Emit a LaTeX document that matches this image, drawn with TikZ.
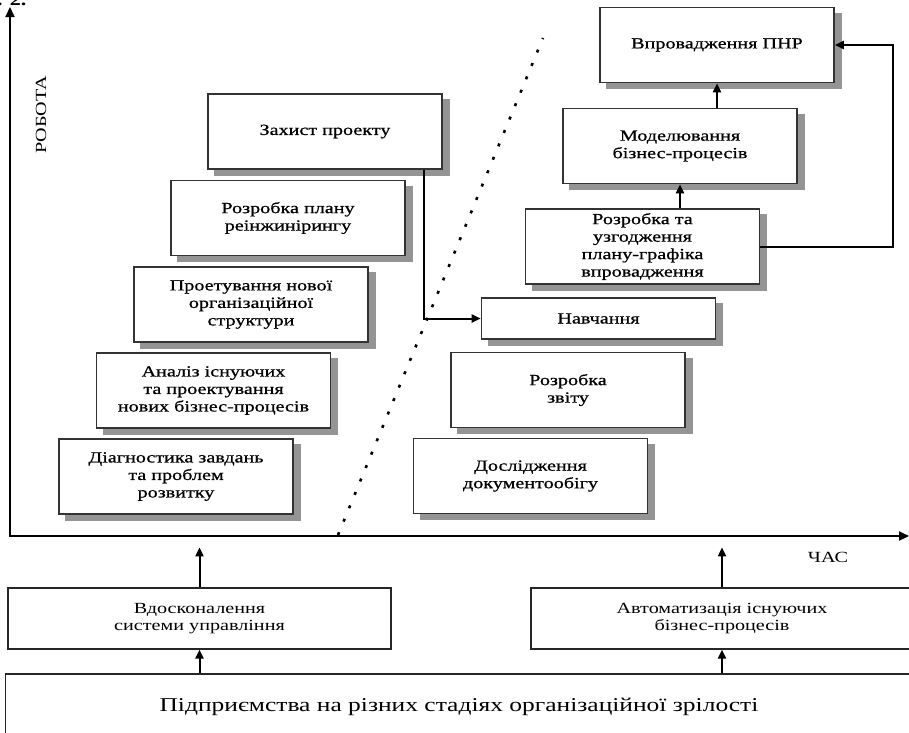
\documentclass[tikz,border=0pt]{standalone}
\usepackage{fontspec}
\setmainfont{Liberation Serif}[FakeStretch=1.3]
\newfontfamily\stagefont{Liberation Serif}[FakeStretch=1.3, FakeBold=0.7]
\usetikzlibrary{calc,arrows.meta,backgrounds}

\begin{document}
\begin{tikzpicture}[x=1pt, y=-1pt, font=\fontsize{15.5}{17.5}\selectfont,
    stage/.style={draw=black!80, line width=1.6pt, fill=white, align=center, inner sep=2pt,
        minimum width=234, minimum height=75, font={\stagefont\fontsize{15.5}{17.5}\selectfont}},
    base/.style={draw=black!85, line width=1.2pt, fill=white, align=center, minimum height=61},
    arr/.style={-{Triangle[length=9pt,width=8pt]}, line width=2pt},
    dotline/.style={line width=2.6pt, dash pattern=on 3pt off 11.5pt}]
    \useasboundingbox (0,0) rectangle (909,732);
    \node[anchor=base east, font=\bfseries\fontsize{17}{20}\selectfont] (caption) at (30,5) {Рис. 2.};
    % Axes
    \coordinate (ytip) at (10,7);
    \coordinate (xtip) at (909,536);
    \draw[line width=2pt, {Triangle[length=10pt,width=9pt]}-{Triangle[length=10pt,width=9pt]}] (ytip) |- (xtip);
    \node[rotate=90] (robota) at (41,115) {РОБОТА};
    \node (chas) at (828,557) {ЧАС};
    % Border between the two stages
    \coordinate (dbot) at (338,535);
    \coordinate (dtop) at (543,38);
    \draw[dotline] (dbot) -- (dtop);
    % Management stages
    \node[stage] (zahyst) at (325,131.5) {Захист проекту};
    \node[stage] (plan) at (288,218) {Розробка плану\\реінжинірингу};
    \node[stage] (struktura) at (251,304.5) {Проетування нової\\організаційної\\структури};
    \node[stage] (analiz) at (213.5,390.5) {Аналіз існуючих\\та проектування\\нових бізнес-процесів};
    \node[stage] (diagn) at (176,476.5) {Діагностика завдань\\та проблем\\розвитку};
    % Automation stages
    \node[stage] (pnr) at (717,45) {Впровадження ПНР};
    \node[stage] (model) at (680,146) {Моделювання\\бізнес-процесів};
    \node[stage] (grafik) at (642.5,246.5) {Розробка та\\узгодження\\плану-графіка\\впровадження};
    \node[stage, minimum height=41] (navch) at (598.5,318.5) {Навчання};
    \node[stage] (zvit) at (568,390) {Розробка\\звіту};
    \node[stage] (doslid) at (530.5,476) {Дослідження\\документообігу};
    % Shadows
    \begin{scope}[on background layer]
        \foreach \n in {zahyst,plan,struktura,analiz,diagn,pnr,model,grafik,navch,zvit,doslid}
            \fill[black!42] ($(\n.north west)+(7,6)$) rectangle ($(\n.south east)+(7,6)$);
    \end{scope}
    % Directions
    \node[base, minimum width=383] (vdosk) at (199.5,618.5) {Вдосконалення\\системи управління};
    \node[base, minimum width=382] (avtom) at (722,618.5) {Автоматизація існуючих\\бізнес-процесів};
    \node[base, minimum width=907, minimum height=66, font=\fontsize{19.6}{24}\selectfont] (pidpr) at (459,707) {Підприємства на різних стадіях організаційної зрілості};
    % Connections
    \draw[arr] ($(zahyst.south east)+(-19,0)$) |- (navch.west);
    \draw[arr] (model.south |- grafik.north) -- (model.south);
    \draw[arr] (pnr.south |- model.north) -- (pnr.south);
    \draw[arr] (grafik.east) -- ++(133,0) |- (pnr.east);
    \draw[arr] (vdosk.north) -- ++(0,-40);
    \draw[arr] (avtom.north) -- ++(0,-40);
    \draw[arr] (pidpr.north -| vdosk.north) -- (vdosk.south);
    \draw[arr] (pidpr.north -| avtom.north) -- (avtom.south);
\end{tikzpicture}
\end{document}
